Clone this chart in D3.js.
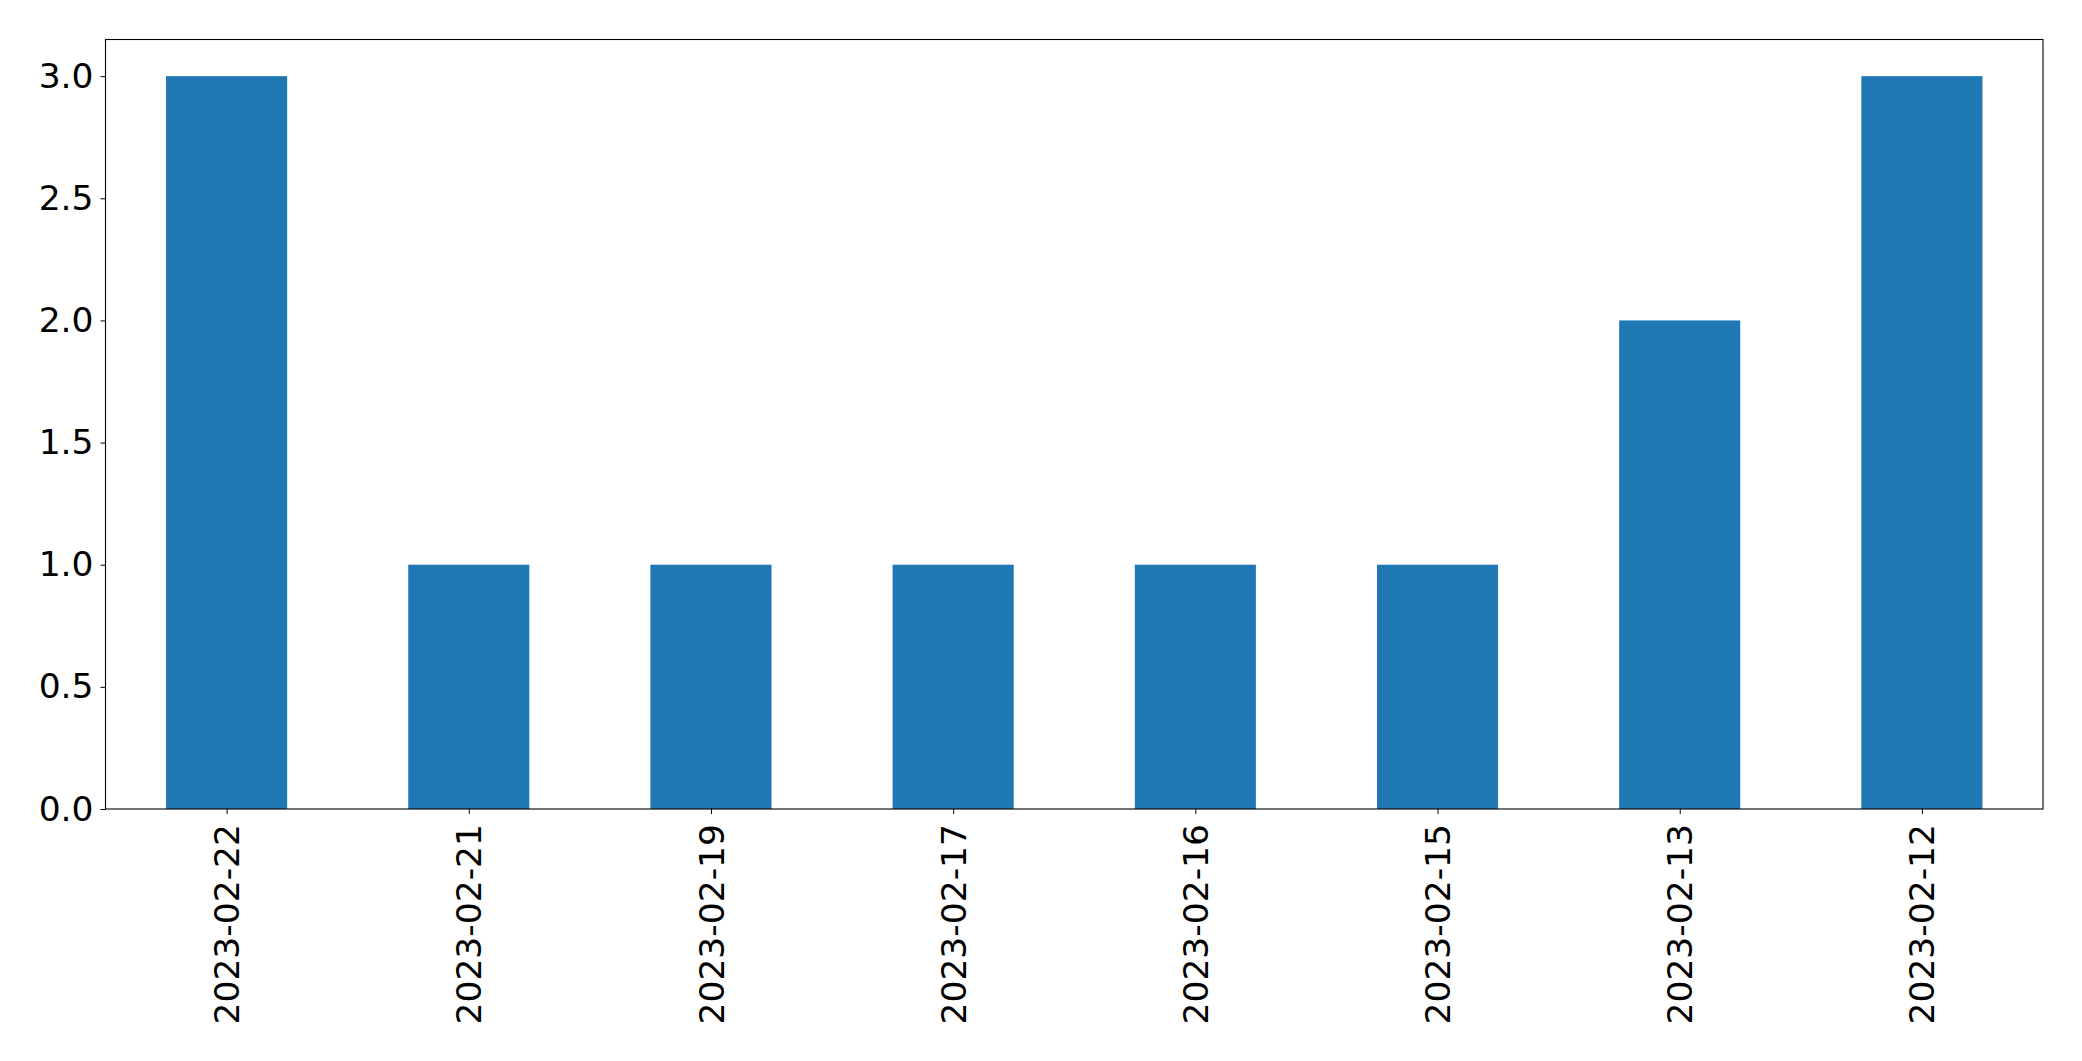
<!DOCTYPE html>
<html>
<head>
<meta charset="utf-8">
<script src="https://cdn.jsdelivr.net/npm/d3@7"></script>
<style>
  html, body { margin: 0; padding: 0; background: #fff; }
  svg { display: block; }
  svg text { font-family: "DejaVu Sans", sans-serif; }
</style>
</head>
<body>
<div id="chart"></div>
<script>
// Chart data
const dates = ["2023-02-22", "2023-02-21", "2023-02-19", "2023-02-17", "2023-02-16", "2023-02-15", "2023-02-13", "2023-02-12"];
const counts = [3, 1, 1, 1, 1, 1, 2, 3];
const yTicks = [0, 0.5, 1.0, 1.5, 2.0, 2.5, 3.0];

// Dimensions
const width = 2082;
const height = 1061;
const margin = { top: 39.5, right: 39, bottom: 252, left: 105.5 };
const plotW = width - margin.left - margin.right;
const plotH = height - margin.top - margin.bottom;
const fontSize = "34.5px";

const svg = d3.select("#chart")
    .append("svg")
    .attr("width", width)
    .attr("height", height);

const g = svg.append("g")
    .attr("transform", `translate(${margin.left}, ${margin.top})`);

// Scales: pandas bar layout, xlim -0.5..n-0.5, bar width 0.5
const x = d3.scaleLinear()
    .domain([-0.5, dates.length - 0.5])
    .range([0, plotW]);

const y = d3.scaleLinear()
    .domain([0, 3.15])
    .range([plotH, 0]);

// Bars
g.selectAll("rect.bar")
    .data(counts)
    .enter()
    .append("rect")
    .attr("class", "bar")
    .attr("x", (d, i) => x(i - 0.25))
    .attr("width", (d, i) => x(i + 0.25) - x(i - 0.25))
    .attr("y", d => y(d))
    .attr("height", d => y(0) - y(d))
    .attr("fill", "#1f77b4");

// Y axis
const yAxis = g.append("g")
    .call(d3.axisLeft(y)
        .tickValues(yTicks)
        .tickFormat(d3.format(".1f"))
        .tickSize(5)
        .tickPadding(7));
yAxis.select(".domain").remove();
yAxis.selectAll("text")
    .style("font-size", fontSize)
    .attr("fill", "#000");
yAxis.selectAll("line").attr("stroke", "#000").attr("stroke-width", 1);

// X axis
const xAxis = g.append("g")
    .attr("transform", `translate(0, ${plotH})`)
    .call(d3.axisBottom(x)
        .tickValues(d3.range(dates.length))
        .tickFormat(i => dates[i])
        .tickSize(5)
        .tickPadding(5));
xAxis.select(".domain").remove();
xAxis.selectAll("line").attr("stroke", "#000").attr("stroke-width", 1);
xAxis.selectAll("text")
    .style("font-size", fontSize)
    .attr("fill", "#000")
    .attr("text-anchor", "end")
    .attr("dy", "0.35em")
    .attr("transform", "translate(0, 15) rotate(-90)")
    .attr("x", 0)
    .attr("y", 0);

// Frame
g.append("rect")
    .attr("width", plotW)
    .attr("height", plotH)
    .attr("fill", "none")
    .attr("stroke", "#000")
    .attr("stroke-width", 1.1);
</script>
</body>
</html>
